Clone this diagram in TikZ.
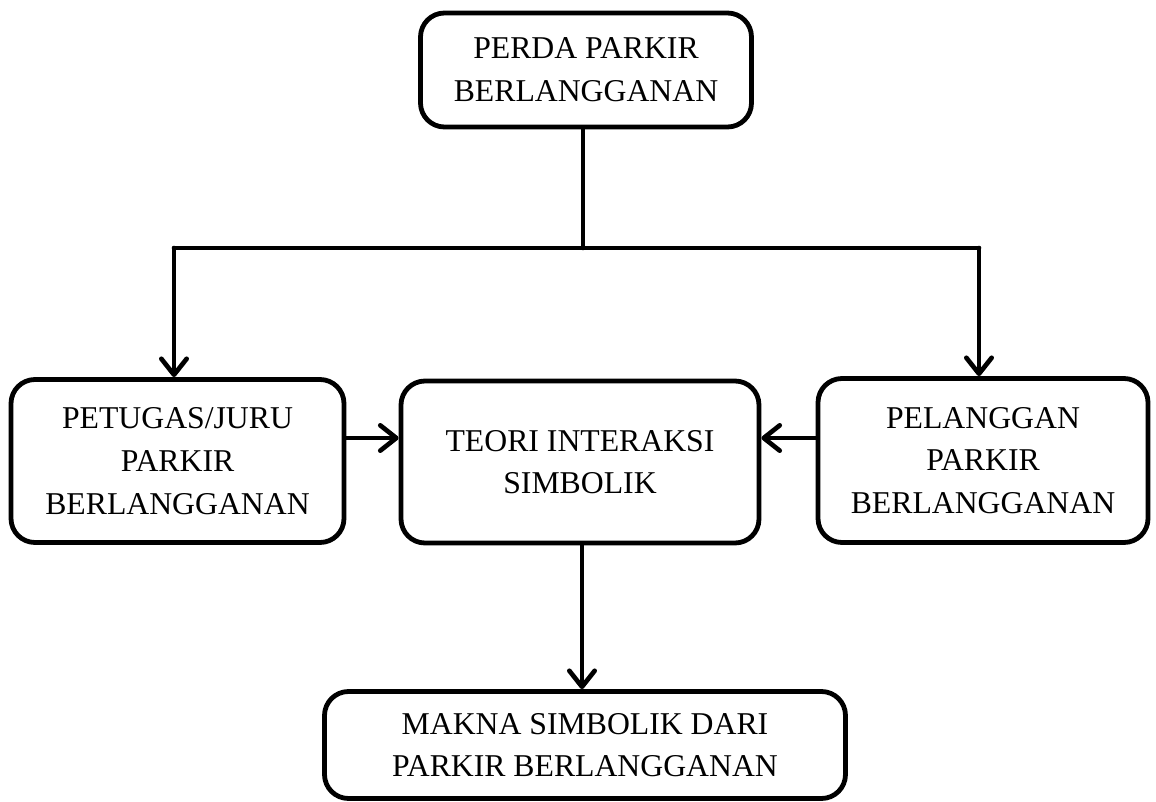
\documentclass[tikz,border=0pt]{standalone}
\usepackage{fontspec}
\setmainfont{Liberation Serif}
\usetikzlibrary{arrows.meta}
\begin{document}
\begin{tikzpicture}[x=0.75pt,y=-0.75pt,
  box/.style={draw=black, line width=3.6pt, rounded corners=18pt, fill=white,
    align=center, inner sep=0pt, font=\fontsize{23.8}{32}\selectfont},
  conn/.style={line width=3.5pt, line cap=round, line join=round},
  arr/.style={conn, -{Straight Barb[length=12pt, width=19pt, line cap=round, line join=round]}}
]
\useasboundingbox (0,0) rectangle (1156,802);
\node[box, minimum width=331*0.75pt, minimum height=114*0.75pt] (top) at (586,70) {PERDA PARKIR\\BERLANGGANAN};
\node[box, minimum width=333*0.75pt, minimum height=163*0.75pt] (left) at (177.5,461) {PETUGAS/JURU\\PARKIR\\BERLANGGANAN};
\node[box, minimum width=358*0.75pt, minimum height=162*0.75pt] (center) at (580,462) {TEORI INTERAKSI\\SIMBOLIK};
\node[box, minimum width=330*0.75pt, minimum height=164*0.75pt] (right) at (983,460.5) {PELANGGAN\\PARKIR\\BERLANGGANAN};
\node[box, minimum width=521*0.75pt, minimum height=107*0.75pt] (bottom) at (585,745) {MAKNA SIMBOLIK DARI\\PARKIR BERLANGGANAN};
\coordinate (jl) at (174,248);
\coordinate (jr) at (979,248);
\coordinate (jc) at (583,248);
\coordinate (ay) at (0,438);
\coordinate (dx) at (582,0);
\draw[conn] (jc |- top.south) -- (jc);
\draw[conn] (jl) -- (jr);
\draw[arr] (jl) -- (jl |- left.north);
\draw[arr] (jr) -- (jr |- right.north);
\draw[arr] (left.east |- ay) -- (center.west |- ay);
\draw[arr] (right.west |- ay) -- (center.east |- ay);
\draw[arr] (dx |- center.south) -- (dx |- bottom.north);
\end{tikzpicture}
\end{document}
